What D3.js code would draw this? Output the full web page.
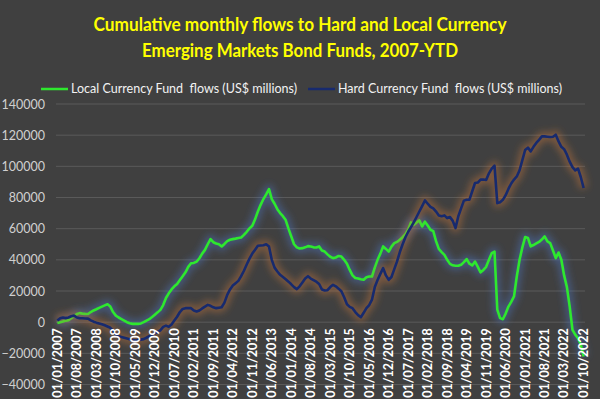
<!DOCTYPE html>
<html><head><meta charset="utf-8">
<script src="https://cdn.jsdelivr.net/npm/d3@7/dist/d3.min.js"></script>
<style>
html,body{margin:0;padding:0;background:#404040;}
svg{display:block;font-family:Lato,"Open Sans",sans-serif;}
</style></head>
<body>
<script>
const titleLines = ["Cumulative monthly flows to Hard and Local Currency", "Emerging Markets Bond Funds, 2007-YTD"];
const seriesNames = ["Local Currency Fund  flows (US$ millions)", "Hard Currency Fund  flows (US$ millions)"];
const yTicks = [-40000,-20000,0,20000,40000,60000,80000,100000,120000,140000];
const xTickLabels = ["01/01/2007","01/08/2007","01/03/2008","01/10/2008","01/05/2009","01/12/2009","01/07/2010","01/02/2011","01/09/2011","01/04/2012","01/11/2012","01/06/2013","01/01/2014","01/08/2014","01/03/2015","01/10/2015","01/05/2016","01/12/2016","01/07/2017","01/02/2018","01/09/2018","01/04/2019","01/11/2019","01/06/2020","01/01/2021","01/08/2021","01/03/2022","01/10/2022"];
const localFlows = [
-500,0,500,1000,1300,2500,4000,5200,5800,5500,5300,5200,6500,7500,8300,9200,10000,10800,11500,10000,
6500,4200,3000,2000,1000,0,-700,-1100,-1000,-1100,-800,0,1000,1900,3300,4800,6300,7900,11000,15500,
18500,21000,23000,24500,27000,29500,32000,35500,37800,38000,38900,41000,44000,46400,50000,53300,51300,50500,50000,48600,
50200,52000,52900,53300,53600,54000,54300,56000,58000,60200,61900,66000,71000,75300,79000,82000,85400,79000,76000,72500,
70000,68000,65500,60000,55000,50000,48000,47300,47500,48000,48800,48500,48000,47900,48600,46000,45300,43500,42000,41100,
41500,42500,42100,40000,37500,33500,30000,28300,28000,27500,27200,28800,29300,29300,35000,40000,44000,48600,47000,45300,
48500,50700,51500,52900,54500,56500,59500,64000,62500,64000,65300,61400,64500,62000,59300,58400,52000,47000,45000,43200,
40000,37400,36500,36200,36200,36800,38500,40500,37500,36400,38900,35500,32000,33500,35500,40000,44300,45300,8000,2600,
1900,5500,10000,13000,16500,29300,40000,48000,54600,54000,48600,49500,50500,51500,53000,55000,51800,50700,46000,41100,
44700,40000,30000,22500,10000,-4900,-8000,-10300,-14500,-22000];
const hardFlows = [
1000,2500,3000,2600,3000,3800,4200,3000,2500,2500,2400,2300,1200,300,-300,-800,-1300,-2000,-2800,-3600,
-5500,-8000,-9000,-9500,-10000,-10500,-11000,-11400,-11800,-11500,-11200,-10900,-10000,-9000,-8300,-7200,-6200,-5200,-3000,-2200,
-3000,-1500,1000,3500,6500,8500,9000,9000,9000,7500,6800,7500,8800,10000,11100,10500,9500,9000,9300,9600,
12500,17500,21000,23500,25000,26500,29500,33000,37000,40800,44000,46500,49000,49200,49400,50000,48500,40000,35000,32500,
30400,29000,27500,26000,24300,22500,21200,23000,25500,28000,29500,28000,27000,26000,24500,21000,20300,20500,22500,24000,
23000,21500,19800,16000,11500,9800,9000,6500,4500,3200,6000,9000,11000,14500,22500,27000,31000,34700,30000,27200,
29000,34000,39000,45000,50000,54500,58000,61000,64000,67500,71000,74500,78100,76000,74000,73000,71000,68500,68000,68500,
66800,67500,65000,60400,68000,73000,78000,78600,78600,84000,89300,89600,91500,91500,91200,95500,98500,100400,76400,77000,
78500,81500,85500,89000,91500,93500,97500,104000,110500,112000,109600,112500,115000,117000,119200,119200,119000,118800,119000,120300,
116000,112500,111000,107500,103000,99500,97400,98500,93000,86100];

const W = 600, H = 399;
const svg = d3.select("body").append("svg").attr("width", W).attr("height", H);
svg.append("rect").attr("width", W).attr("height", H).attr("fill", "#404040");

const defs = svg.append("defs");
const f = defs.append("filter").attr("id","glow").attr("x","-10%").attr("y","-20%").attr("width","120%").attr("height","140%");
f.append("feGaussianBlur").attr("stdDeviation", 3.5);

const idx = d3.range(localFlows.length);
const x = d3.scaleBand().domain(idx).range([56, 585]);
const y = d3.scaleLinear().domain([-40000, 140000]).range([384.5, 104]);
const cx = i => x(i) + x.bandwidth()/2;

// title
svg.selectAll("text.title").data(titleLines).join("text")
  .attr("class","title")
  .attr("x", 300).attr("y", (d,i) => 30.5 + i*26)
  .attr("text-anchor","middle")
  .attr("fill","#ffff00").attr("font-weight","bold").attr("font-size", 18)
  .attr("textLength", (d,i) => i === 0 ? 413 : 316)
  .attr("lengthAdjust","spacingAndGlyphs")
  .text(d => d);

// legend
const legendColors = ["#2ee82e", "#172a6e"];
const legX = [41, 308], legTextX = [71, 338], legTextW = [226, 224];
seriesNames.forEach((n,i) => {
  svg.append("line").attr("x1", legX[i]).attr("x2", legX[i]+27).attr("y1", 89).attr("y2", 89)
    .attr("stroke", legendColors[i]).attr("stroke-width", 2.5);
  svg.append("text").attr("x", legTextX[i]).attr("y", 89).attr("dy","0.35em")
    .attr("fill","#f2f2f2").attr("font-size", 12.5)
    .attr("textLength", legTextW[i]).attr("lengthAdjust","spacingAndGlyphs")
    .style("white-space","pre")
    .text(n);
});

// gridlines
svg.append("g").selectAll("line").data(yTicks).join("line")
  .attr("x1", 56).attr("x2", 585)
  .attr("y1", d => y(d)).attr("y2", d => y(d))
  .attr("stroke", "#5a5a5a").attr("stroke-width", 1);

// y axis labels
const yAxis = d3.axisLeft(y).tickValues(yTicks).tickFormat(d3.format("d")).tickSize(0).tickPadding(0);
const gy = svg.append("g").attr("transform","translate(45,0)").call(yAxis);
gy.select(".domain").remove();
gy.selectAll("text").attr("fill","#d0d0d0").attr("font-size", 12.5).attr("font-family","Lato,'Open Sans',sans-serif");

const line = d3.line().x((d,i) => cx(i)).y(d => y(d));
const series = [
  {vals: localFlows, color: "#2ee82e", glow: "#4a74c0"},
  {vals: hardFlows, color: "#172a6e", glow: "#c8763a"}
];
series.forEach(s => {
  svg.append("path").datum(s.vals).attr("d", line).attr("fill","none")
    .attr("stroke", s.glow).attr("stroke-width", 9).attr("stroke-opacity", 0.45)
    .attr("stroke-linejoin","round").attr("filter","url(#glow)");
  svg.append("path").datum(s.vals).attr("d", line).attr("fill","none")
    .attr("stroke", s.color).attr("stroke-width", 2.6).attr("stroke-linejoin","round");
});

// x axis labels (drawn on top of lines)
const tickIdx = xTickLabels.map((d,i) => i*7);
const xAxis = d3.axisBottom(x).tickValues(tickIdx).tickFormat((d,i) => xTickLabels[i]).tickSize(0).tickPadding(0);
const gx = svg.append("g").attr("transform", `translate(0,${y(0)})`).call(xAxis);
gx.select(".domain").remove();
gx.selectAll("text")
  .attr("fill","#ffffff").attr("font-size", 12.5).attr("font-weight","bold")
  .attr("font-family","Lato,'Open Sans',sans-serif")
  .attr("transform","rotate(-90)")
  .attr("x", -6).attr("y", 0).attr("dy","0.35em")
  .attr("text-anchor","end");
</script>
</body></html>
